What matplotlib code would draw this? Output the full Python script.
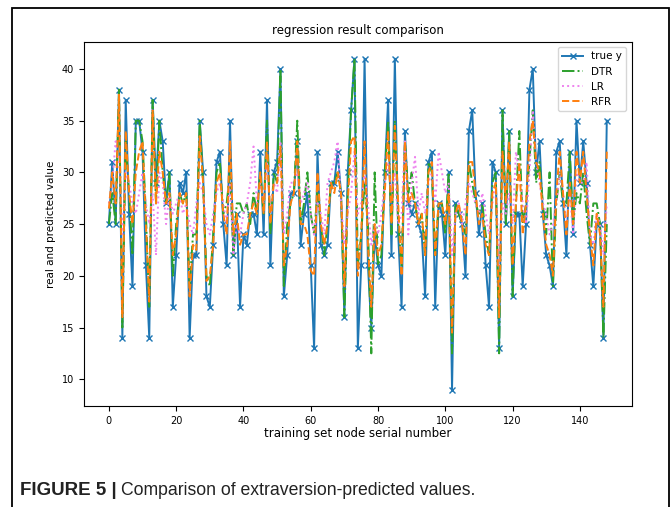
import numpy as np
import matplotlib
matplotlib.use("Agg")
import matplotlib.pyplot as plt
from matplotlib.patches import Rectangle

# valores reales (true y) por índice de nodo
true_y = [25, 31, 25, 38, 14, 37, 26, 19, 35, 35, 32, 21, 14, 37, 29, 35, 33, 27, 30, 17,
          22, 29, 28, 30, 14, 22, 22, 35, 30, 18, 17, 23, 31, 32, 25, 21, 35, 22, 26, 17,
          24, 23, 26, 26, 24, 32, 24, 37, 21, 30, 31, 40, 18, 22, 28, 28, 33, 23, 26, 28,
          21, 13, 32, 23, 22, 23, 29, 29, 32, 28, 16, 30, 36, 41, 13, 21, 41, 21, 15, 24,
          21, 20, 30, 37, 22, 41, 24, 17, 34, 27, 26, 27, 25, 24, 18, 31, 32, 17, 27, 26,
          22, 30, 9, 27, 26, 25, 20, 34, 36, 28, 24, 27, 21, 17, 31, 30, 13, 36, 25, 34,
          18, 26, 26, 19, 25, 38, 40, 30, 33, 26, 22, 21, 19, 32, 33, 27, 22, 32, 24, 35,
          29, 33, 29, 23, 19, 25, 25, 14, 35]

dtr = [25, 28, 25, 38, 15, 33, 28, 22, 35, 35, 33, 26, 17, 37, 27, 35, 30, 27, 30, 20,
       25, 28, 27, 28, 19, 24, 24, 35, 29, 20, 19, 24, 30, 31, 26, 27, 30, 22, 27, 27,
       26, 27, 25, 28, 26, 30, 26, 35, 24, 30, 29, 40, 19, 25, 27, 28, 35, 25, 27, 30,
       26, 24, 28, 25, 22, 25, 29, 29, 30, 28, 16, 28, 36, 41, 21, 24, 29, 25, 12.5, 30,
       21, 22, 30, 35, 24, 35, 25, 21, 33, 28, 30, 27, 25, 26, 22, 31, 30, 22, 27, 27,
       24, 30, 12.5, 27, 26, 25, 24, 31, 29, 27, 26, 27, 24, 22, 29, 30, 12.5, 36, 25, 34,
       18, 27, 34, 25, 27, 31, 36, 29, 31, 27, 24, 30, 19, 27, 30, 27, 27, 32, 25, 28,
       27, 30, 26, 23, 27, 27, 25, 14, 25]

lr = [27, 29, 33, 31, 24, 30, 29, 27, 26, 28, 30, 27, 25, 28, 22, 30, 29, 25, 28, 26,
      27, 28, 26, 27, 25, 24, 27, 29, 28, 25, 24, 26, 28, 29, 27, 25, 29, 22, 25, 24,
      26, 27, 29, 32.5, 27, 29, 27, 31, 26, 29, 28, 33, 24, 26, 29, 29, 30, 27, 28, 29,
      26, 24, 27, 26, 24, 29, 30, 31, 33, 27, 23, 26, 28, 32, 26, 27, 30, 27, 23, 25,
      24, 26, 29, 31, 28, 30, 25, 26, 33, 24, 29, 31.5, 26, 28, 26, 29, 30, 27, 32, 30,
      28, 29, 22, 26, 27, 25, 27, 29, 28, 27, 26, 28, 26, 24, 27, 29, 21, 27, 26, 28,
      25, 32, 30, 27, 25, 30, 36, 31, 29, 27, 26, 24, 25, 27, 30, 28, 25, 28, 24, 30,
      29, 29, 31, 24, 23, 26, 25, 22, 27]

rfr = [26.5, 30, 27, 37.5, 16, 34, 28, 25, 30, 32, 33, 25, 17.5, 36, 27, 32, 30, 27, 28, 22,
       24, 28, 27, 28, 18, 23, 22.5, 33.5, 29, 19.5, 20, 23, 29, 30, 26, 24, 33, 24, 26, 23,
       24, 24, 26, 27, 26, 30, 26, 33, 25, 29, 29, 32.5, 21, 23, 27, 28, 33, 25, 25, 24,
       20.5, 20, 30, 25, 23, 25, 29, 28, 30, 28, 19, 27, 33, 33.5, 20, 24, 33, 23, 17, 25,
       22, 23, 28, 34, 25, 34.5, 27, 20, 33, 27, 28, 27, 25, 26, 22, 30, 31, 22, 27, 27,
       25, 28, 14.5, 26, 27, 25, 22, 31, 31, 28, 25, 26, 23, 22, 28, 29, 16, 32, 27, 33,
       21, 27, 31, 24, 27, 33, 35, 31, 30, 26, 23, 22, 20, 28, 32, 28, 24, 29, 25, 32,
       29, 32, 28, 24, 21, 26, 24, 17, 32]

x = np.arange(len(true_y))

fig = plt.figure(figsize=(6.72, 5.07), dpi=100)
ax = fig.add_axes([0.125, 0.199, 0.815, 0.718])

ax.plot(x, true_y, color="#1f77b4", marker="x", markersize=5, lw=1.4, label="true y")
ax.plot(x, dtr, color="#2ca02c", linestyle="-.", lw=1.4, label="DTR")
ax.plot(x, lr, color="violet", linestyle=":", lw=1.4, label="LR")
ax.plot(x, rfr, color="#ff7f0e", linestyle="--", lw=1.4, label="RFR")

ax.set_title("regression result comparison", fontsize=8.5)
ax.set_xlabel("training set node serial number", fontsize=8.5, labelpad=1)
ax.set_ylabel("real and predicted value", fontsize=7.5)
ax.tick_params(labelsize=7)
ax.set_xticks([0, 20, 40, 60, 80, 100, 120, 140])
ax.set_yticks([10, 15, 20, 25, 30, 35, 40])
ax.legend(loc="upper right", fontsize=7.5)

# marco exterior de la figura
fig.patches.append(Rectangle((12 / 672, -0.01), 657 / 672, 1 - 8 / 507 + 0.01,
                             transform=fig.transFigure, fill=False,
                             edgecolor="black", lw=1.3))

# pie de figura
fig.canvas.draw()
t1 = fig.text(20 / 672, 1 - 495 / 507, "FIGURE 5 |", fontsize=13.5,
              fontweight="bold", family="Liberation Sans", va="baseline", color="#222222")
fig.canvas.draw()
bb = t1.get_window_extent()
fig.text(bb.x1 / 672 + 4 / 672, 1 - 495 / 507, "Comparison of extraversion-predicted values.",
         fontsize=12.7, family="Liberation Sans", va="baseline", color="#222222")

fig.savefig("out.png", dpi=100)
